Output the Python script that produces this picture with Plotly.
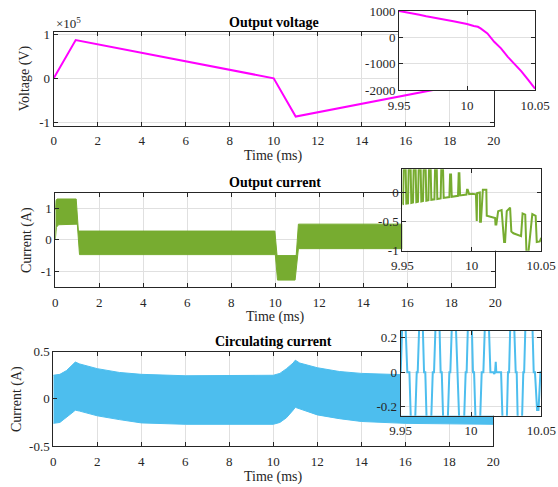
import plotly.graph_objects as go

W, H = 558, 487
FONT = "Liberation Serif, Times New Roman, serif"
AX = "#262626"
GRID = "#e0e0e0"
MAG = "#FF00FF"
GRN = "#77AC30"
BLU = "#4DBEEE"

# ---------------- data ----------------
# Output voltage (V), main panel
volt_t = [0, 1, 10, 11, 20]
volt_v = [0, 87000, 0, -87000, 0]

# Output voltage, zoom 9.95-10.05 ms
volt_zoom_t = [9.95, 9.955, 9.96, 9.965, 9.97, 9.975, 9.98, 9.985, 9.99, 9.995,
               10.0, 10.005, 10.008, 10.01, 10.015, 10.02, 10.025, 10.03, 10.035,
               10.04, 10.045, 10.05]
volt_zoom_v = [1000, 960, 910, 860, 800, 760, 700, 660, 610, 560,
               505, 430, 400, 340, 150, -170, -420, -740, -1000,
               -1290, -1620, -1950]

# Output current (A) envelope of the switching ripple
cur_up_t = [0.0, 0.03, 0.08, 0.95, 1.05, 9.98, 10.08, 10.95, 11.05, 20.0]
cur_up = [0.95, 1.25, 1.30, 1.30, 0.28, 0.28, -0.50, -0.50, 0.50, 0.50]
cur_lo_t = [0.0, 0.05, 0.15, 1.0, 1.1, 10.0, 10.1, 10.9, 11.05, 20.0]
cur_lo = [0.0, 0.40, 0.48, 0.50, -0.47, -0.47, -1.28, -1.28, -0.28, -0.28]

# Output current, zoom
cur_zoom_t = [9.9500, 9.9505, 9.9510, 9.9524, 9.9529,
              9.9541, 9.9546, 9.9560, 9.9565,
              9.9577, 9.9582, 9.9596, 9.9601,
              9.9613, 9.9618, 9.9632, 9.9637,
              9.9649, 9.9654, 9.9668, 9.9673,
              9.9688, 9.9692, 9.9704, 9.9709,
              9.9731, 9.9736, 9.9748, 9.9752,
              9.9776, 9.9781, 9.9793, 9.9798,
              9.9839, 9.9844, 9.9851, 9.9856,
              9.9901, 9.9906, 9.9911, 9.9916,
              9.9962, 9.9966, 9.9971, 9.9981,
              10.0000, 10.0030, 10.0032, 10.0036, 10.0039, 10.0058, 10.0060, 10.0066,
              10.0080, 10.0105, 10.0108, 10.0168, 10.0171, 10.0177, 10.0190, 10.0215,
              10.0233, 10.0240, 10.0252, 10.0276, 10.0285, 10.0300, 10.0355, 10.0366,
              10.0385, 10.0395, 10.0405, 10.0436, 10.0460, 10.0468, 10.0490, 10.0500]
cur_zoom_i = [-0.200, -0.198, 0.42, 0.42, -0.190,
              -0.185, 0.42, 0.42, -0.180,
              -0.172, 0.42, 0.42, -0.166,
              -0.159, 0.42, 0.42, -0.153,
              -0.146, 0.42, 0.42, -0.140,
              -0.132, 0.42, 0.42, -0.125,
              -0.117, 0.42, 0.42, -0.110,
              -0.100, 0.42, 0.42, -0.093,
              -0.078, 0.31, 0.31, -0.072,
              -0.056, 0.33, 0.33, -0.050,
              -0.034, 0.05, 0.05, -0.027,
              -0.02, -0.03, -0.49, -0.49, -0.01, 0.0, -0.50, -0.50,
              0.05, 0.05, -0.40, -0.44, -0.55, -0.55, -0.32, -0.30,
              -0.85, -0.85, -0.32, -0.26, -0.67, -0.70, -0.75, -0.36,
              -0.38, -1.10, -1.10, -0.37, -0.40, -0.85, -0.84, -0.78]

# Circulating current (A) envelope
circ_up_t = [0.0, 0.3, 0.6, 0.9, 1.0, 1.2, 2.0, 3.0, 4.0, 6.0, 10.0,
             10.3, 10.6, 10.9, 11.0, 11.2, 12.0, 13.0, 14.0, 16.0, 20.0]
circ_up = [0.25, 0.26, 0.30, 0.36, 0.39, 0.37, 0.32, 0.28, 0.26, 0.245, 0.25,
           0.27, 0.32, 0.38, 0.41, 0.38, 0.33, 0.29, 0.27, 0.255, 0.25]
circ_lo_t = [0.0, 0.3, 0.6, 0.9, 1.0, 1.2, 2.0, 3.0, 4.0, 6.0, 10.0,
             10.3, 10.6, 10.9, 11.0, 11.2, 12.0, 13.0, 14.0, 16.0, 20.0]
circ_lo = [-0.26, -0.25, -0.20, -0.14, -0.12, -0.13, -0.18, -0.22, -0.255, -0.27, -0.27,
           -0.25, -0.20, -0.12, -0.09, -0.11, -0.17, -0.21, -0.24, -0.26, -0.27]

# Circulating current, zoom
circ_zoom_t = [9.9500, 9.9512, 9.9533, 9.9547, 9.9562, 9.9573, 9.9602, 9.9614, 9.9621, 9.9633,
               9.9656, 9.9666, 9.9675, 9.9685, 9.9716, 9.9728, 9.9737, 9.9749, 9.9775, 9.9784,
               9.9792, 9.9803, 9.9834, 9.9846, 9.9853, 9.9865, 9.9891, 9.9903, 9.9908, 9.9917,
               9.9950, 9.9962, 9.9969, 9.9979, 10.0005, 10.0014, 10.0022, 10.0033, 10.0064, 10.0076,
               10.0088, 10.0100, 10.0126, 10.0138, 10.0159, 10.0166, 10.0171, 10.0176, 10.0180, 10.0214,
               10.0225, 10.0254, 10.0263, 10.0271, 10.0280, 10.0306, 10.0318, 10.0325, 10.0333, 10.0362,
               10.0372, 10.0378, 10.0388, 10.0436, 10.0446, 10.0455, 10.0470, 10.0480, 10.0494, 10.0500]
circ_zoom_i = [0.0, 0.3, 0.3, 0.0, 0.0, -0.3, -0.3, 0.0, 0.0, 0.3,
               0.3, 0.0, 0.0, -0.3, -0.3, 0.0, 0.0, 0.3, 0.3, 0.0,
               0.0, -0.3, -0.3, 0.0, 0.0, 0.3, 0.3, 0.0, 0.0, -0.3,
               -0.3, 0.0, 0.0, 0.3, 0.3, 0.0, 0.0, -0.3, -0.3, 0.0,
               0.0, 0.3, 0.3, 0.0, 0.0, -0.01, 0.0, 0.06, 0.0, 0.0,
               -0.3, -0.3, 0.0, 0.0, 0.3, 0.3, 0.0, 0.0, -0.3, -0.3,
               0.0, 0.0, 0.3, 0.3, 0.0, 0.0, -0.22, -0.22, 0.0, 0.0]

main_xticks = [0, 2, 4, 6, 8, 10, 12, 14, 16, 18, 20]
zoom_xticks = [9.95, 10.0, 10.05]
zoom_xtext = ["9.95", "10", "10.05"]

# ---------------- figure ----------------
def dx(a, b):
    return [a / W, b / W]


def dy(top, bot):
    return [1 - bot / H, 1 - top / H]


fig = go.Figure()
fig.add_trace(go.Scatter(x=volt_t, y=volt_v, mode="lines",
                         line=dict(color=MAG, width=2), xaxis="x", yaxis="y"))
fig.add_trace(go.Scatter(x=cur_up_t + cur_lo_t[::-1], y=cur_up + cur_lo[::-1],
                         mode="lines", fill="toself", fillcolor=GRN,
                         line=dict(color=GRN, width=1), xaxis="x2", yaxis="y2"))
fig.add_trace(go.Scatter(x=circ_up_t + circ_lo_t[::-1], y=circ_up + circ_lo[::-1],
                         mode="lines", fill="toself", fillcolor=BLU,
                         line=dict(color=BLU, width=1), xaxis="x3", yaxis="y3"))
fig.add_trace(go.Scatter(x=volt_zoom_t, y=volt_zoom_v, mode="lines",
                         line=dict(color=MAG, width=2), xaxis="x4", yaxis="y4"))
fig.add_trace(go.Scatter(x=cur_zoom_t, y=cur_zoom_i, mode="lines",
                         line=dict(color=GRN, width=2), xaxis="x5", yaxis="y5"))
fig.add_trace(go.Scatter(x=circ_zoom_t, y=circ_zoom_i, mode="lines",
                         line=dict(color=BLU, width=2), xaxis="x6", yaxis="y6"))

common = dict(showline=True, linecolor=AX, linewidth=1, mirror="ticks",
              ticks="inside", ticklen=4, tickcolor=AX, showgrid=True,
              gridcolor=GRID, gridwidth=1, zeroline=False, automargin=False,
              ticklabeloverflow="allow",
              tickfont=dict(family=FONT, size=13, color=AX))

main_x = dict(common, range=[0, 20], tickvals=main_xticks,
              ticktext=[str(v) for v in main_xticks], ticklabelstandoff=3)
zoom_x = dict(common, range=[9.95, 10.05], tickvals=zoom_xticks, ticktext=zoom_xtext,
              ticklabelstandoff=3)

fig.update_layout(
    template="none",
    width=W, height=H, margin=dict(l=0, r=0, t=0, b=0, pad=0),
    paper_bgcolor="white", plot_bgcolor="white", showlegend=False,
    font=dict(family=FONT, size=13, color=AX),
    xaxis=dict(main_x, domain=dx(53.7, 493.7), anchor="y"),
    yaxis=dict(common, domain=dy(32.3, 125.7), anchor="x", range=[-107700, 104500],
               tickvals=[-100000, 0, 100000], ticktext=["-1", "0", "1"]),
    xaxis2=dict(main_x, domain=dx(55.3, 495.3), anchor="y2"),
    yaxis2=dict(common, domain=dy(192.7, 287), anchor="x2", range=[-1.5, 1.5],
                tickvals=[-1, 0, 1], ticktext=["-1", "0", "1"]),
    xaxis3=dict(main_x, domain=dx(53.3, 493.3), anchor="y3"),
    yaxis3=dict(common, domain=dy(351.7, 446), anchor="x3", range=[-0.5, 0.5],
                tickvals=[-0.5, 0, 0.5], ticktext=["-0.5", "0", "0.5"]),
    xaxis4=dict(zoom_x, domain=dx(399, 535), anchor="y4"),
    yaxis4=dict(common, domain=dy(11, 90), anchor="x4", range=[-2000, 1000],
                tickvals=[-2000, -1000, 0, 1000], ticktext=["-2000", "-1000", "0", "1000"]),
    xaxis5=dict(zoom_x, domain=dx(402.3, 541.2), anchor="y5"),
    yaxis5=dict(common, domain=dy(169.3, 250.7), anchor="x5", range=[-1, 0.4],
                tickvals=[-1, -0.5, 0], ticktext=["-1", "-0.5", "0"]),
    xaxis6=dict(zoom_x, domain=dx(400.7, 541.3), anchor="y6"),
    yaxis6=dict(common, domain=dy(331, 415.7), anchor="x6", range=[-0.253, 0.24],
                tickvals=[-0.2, 0, 0.2], ticktext=["-0.2", "0", "0.2"]),
)


def ann(text, x, y, size=13, bold=False, angle=0, xanchor="center"):
    if bold:
        text = "<b>" + text + "</b>"
    fig.add_annotation(text=text, x=x / W, y=1 - y / H,
                       xref="paper", yref="paper",
                       showarrow=False, xanchor=xanchor, yanchor="middle",
                       textangle=angle,
                       font=dict(family=FONT, size=size, color="black" if bold else AX))


ann("Output voltage", 273.7, 22.3, size=14, bold=True)
ann("Output current", 275.3, 182.7, size=14, bold=True)
ann("Circulating current", 273.3, 341, size=14, bold=True)
ann("Time (ms)", 273.7, 156, size=14)
ann("Time (ms)", 275.3, 317, size=14)
ann("Time (ms)", 273.3, 477, size=14)
ann("Voltage (V)", 25, 78.3, size=14, angle=-90)
ann("Current (A)", 27, 240, size=14, angle=-90)
ann("Current (A)", 17, 399, size=14, angle=-90)
ann("×10<sup>5</sup>", 54, 23, size=13, xanchor="left")

# remove the default page margin so the figure fills the 558x487 window
page_js = "document.body.style.margin='0';document.body.style.overflow='hidden';"
fig.write_html("out.html", post_script=page_js, config={"displayModeBar": False})
